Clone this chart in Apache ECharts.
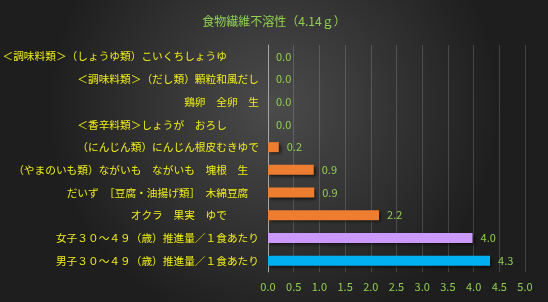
<!DOCTYPE html>
<html><head><meta charset="utf-8">
<script src="https://cdn.jsdelivr.net/npm/echarts@6/dist/echarts.min.js"></script>
<style>html,body{margin:0;padding:0;background:#2a2a2a}#c{width:548px;height:302px}</style>
</head><body><div id="c"></div>
<script>
const titleText = '食物繊維不溶性（4.14ｇ）';
const categories = [
  '＜調味料類＞（しょうゆ類）こいくちしょうゆ　　　',
  '＜調味料類＞（だし類）顆粒和風だし',
  '鶏卵　全卵　生',
  '＜香辛料類＞しょうが　おろし　　　',
  '（にんじん類）にんじん根皮むきゆで',
  '（やまのいも類）ながいも　ながいも　塊根　生　',
  'だいず　［豆腐・油揚げ類］　木綿豆腐　',
  'オクラ　果実　ゆで　　　',
  '女子３０～４９（歳）推進量／１食あたり',
  '男子３０～４９（歳）推進量／１食あたり'
];
const values = [0, 0, 0, 0, 0.21, 0.89, 0.9, 2.16, 3.98, 4.32];
const barColors = ['#ED7D31','#ED7D31','#ED7D31','#ED7D31','#ED7D31','#ED7D31','#ED7D31','#ED7D31','#CC99FF','#00B0F0'];
const xTicks = [0, 0.5, 1, 1.5, 2, 2.5, 3, 3.5, 4, 4.5, 5];

const font = '"Noto Sans CJK JP", "Noto Sans", sans-serif';
const chart = echarts.init(document.getElementById('c'), null, {renderer: 'canvas'});
chart.setOption({
  backgroundColor: {
    type: 'radial', x: 0.5, y: 0.35, r: 0.75,
    colorStops: [{offset: 0, color: '#4b4b4b'}, {offset: 1, color: '#1e1e1e'}]
  },
  animation: false,
  title: {
    text: titleText, left: 'center', top: 10,
    textStyle: {color: '#92D050', fontSize: 12, fontWeight: 'normal', fontFamily: font}
  },
  grid: {left: 268, right: 23, top: 45, bottom: 30, containLabel: false, outerBoundsMode: 'none'},
  xAxis: {
    type: 'value', min: xTicks[0], max: xTicks[xTicks.length - 1], interval: 0.5,
    axisLine: {show: false}, axisTick: {show: false},
    splitLine: {show: true, lineStyle: {color: 'rgba(255,255,255,0.16)', width: 1}},
    axisLabel: {color: '#92D050', fontSize: 11, fontFamily: font, margin: 9,
      formatter: v => v.toFixed(1)}
  },
  yAxis: {
    type: 'category', data: categories, inverse: true,
    axisLine: {show: true, lineStyle: {color: '#a6a6a6', width: 1}},
    axisTick: {show: false},
    axisLabel: {color: '#EDED1A', fontSize: 10.7, fontFamily: font, margin: 9}
  },
  series: [{
    type: 'bar', barWidth: 10,
    data: values.map((v, i) => ({value: v, itemStyle: {color: barColors[i]}})),
    itemStyle: {shadowColor: 'rgba(0,0,0,0.6)', shadowBlur: 3, shadowOffsetX: 2, shadowOffsetY: 2},
    label: {show: true, position: 'right', distance: 8, color: '#92D050', fontSize: 11, fontFamily: font,
      formatter: p => p.value.toFixed(1)}
  }]
});
</script></body></html>
